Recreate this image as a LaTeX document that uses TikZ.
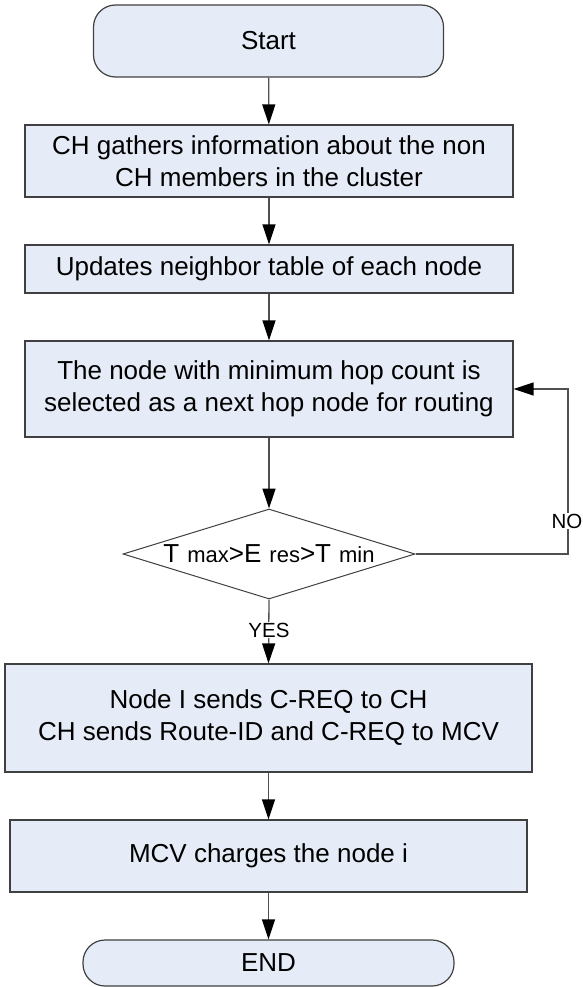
\documentclass[tikz,border=0pt]{standalone}
\usepackage{fontspec}
\setmainfont{Liberation Sans}
\usetikzlibrary{shapes.geometric,arrows.meta}
\definecolor{boxfill}{HTML}{E6ECF7}
\definecolor{boxline}{HTML}{404040}
\definecolor{conline}{HTML}{505050}
\newcommand{\LgF}{\fontsize{26}{32}\selectfont}
\newcommand{\SmF}{\fontsize{22}{26}\selectfont}
\begin{document}
\begin{tikzpicture}[x=1pt,y=-1pt,
  base/.style={draw=boxline,line width=1.2pt,fill=boxfill,inner sep=0pt,align=center,font=\LgF},
  procbox/.style={base,rectangle},
  termbox/.style={base,rectangle,rounded corners=22pt},
  decbox/.style={draw=boxline,line width=1pt,fill=white,shape=diamond,inner sep=0pt,aspect=3.24},
  conn/.style={draw=conline,line width=1.3pt,-{Triangle[length=20pt,width=13pt,color=black]}},
  lab/.style={fill=white,inner sep=1pt,font=\fontsize{20.5}{24}\selectfont}]
\useasboundingbox (0,0) rectangle (582,987);
\node[termbox,minimum width=350pt,minimum height=72pt] (start) at (268.5,41) {Start};
\node[procbox,minimum width=488pt,minimum height=72pt] (b1) at (269,161) {CH gathers information about the non\\CH members in the cluster};
\node[procbox,minimum width=488pt,minimum height=48pt] (b2) at (269,269) {Updates neighbor table of each node};
\node[procbox,minimum width=488pt,minimum height=96pt] (b3) at (269,389) {The node with minimum hop count is\\selected as a next hop node for routing};
\node[decbox,minimum width=292pt,minimum height=90pt] (dec) at (269,554) {{\LgF T}\hspace{8pt}{\SmF max}{\LgF >E}\hspace{8pt}{\SmF res}{\LgF >T}\hspace{8pt}{\SmF min}};
\node[procbox,minimum width=527pt,minimum height=108pt] (b4) at (268.5,718) {Node I sends C-REQ to CH\\CH sends Route-ID and C-REQ to MCV};
\node[procbox,minimum width=517pt,minimum height=72pt] (b5) at (268.5,856) {MCV charges the node i};
\node[termbox,minimum width=371pt,minimum height=46pt] (end) at (268.5,963) {END};
\coordinate (c1) at (568,554);
\draw[conn] (start) -- (b1);
\draw[conn] (b1) -- (b2);
\draw[conn] (b2) -- (b3);
\draw[conn] (b3) -- (dec);
\draw[conn] (dec.south) -- (b4.north);
\draw[conn] (b4) -- (b5);
\draw[conn] (b5) -- (end);
\draw[conn] (dec.east) -- (c1) |- (b3.east);
\node[lab] (no) at (567,521) {NO};
\node[lab] (yes) at (269,630) {YES};
\end{tikzpicture}
\end{document}
